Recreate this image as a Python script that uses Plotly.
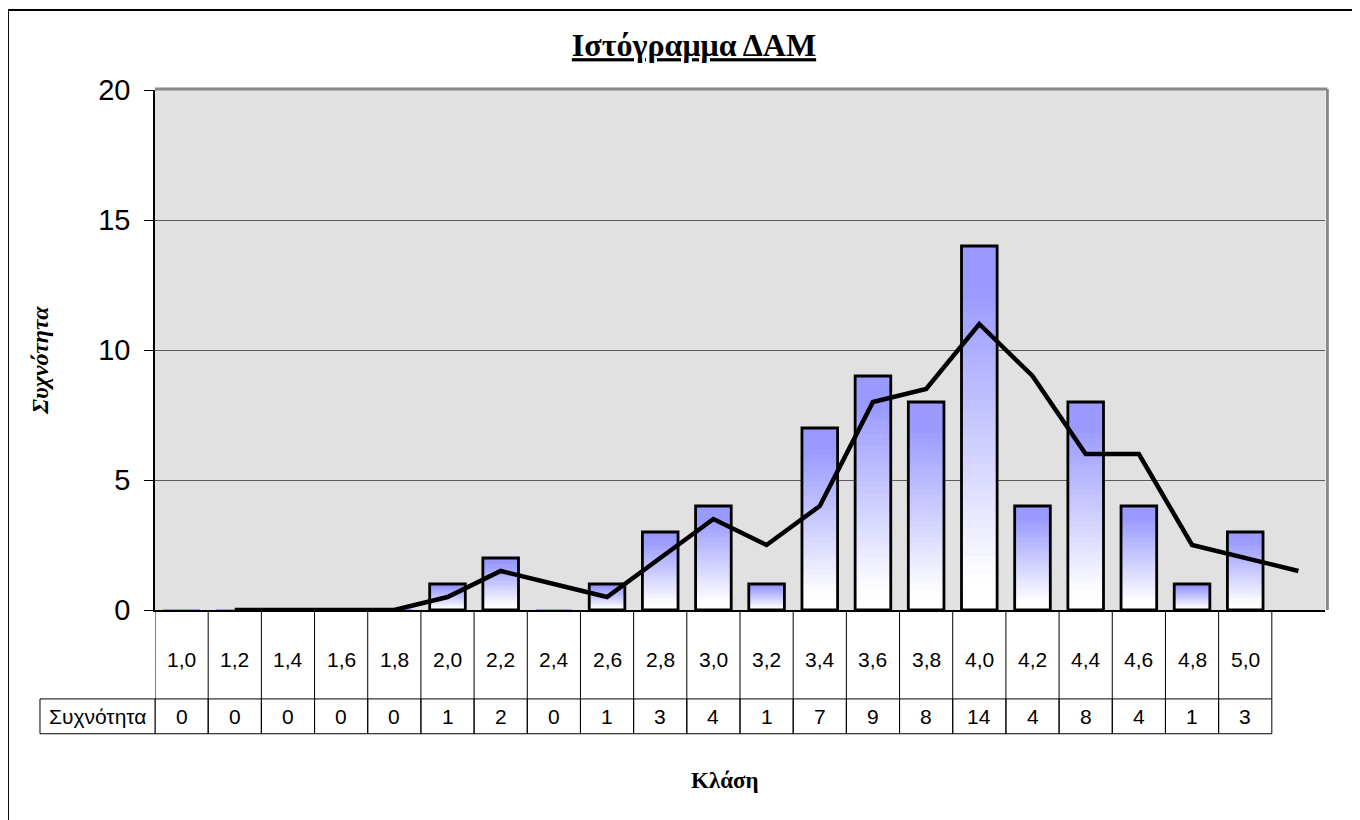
import plotly.graph_objects as go

# ---- data ----
classes = ["1,0", "1,2", "1,4", "1,6", "1,8", "2,0", "2,2", "2,4", "2,6", "2,8", "3,0",
           "3,2", "3,4", "3,6", "3,8", "4,0", "4,2", "4,4", "4,6", "4,8", "5,0"]
extra_class = " "
frequency = [0, 0, 0, 0, 0, 1, 2, 0, 1, 3, 4, 1, 7, 9, 8, 14, 4, 8, 4, 1, 3]
# 2-period moving average line (starts at 1,2; last point on the extra class)
trend_x = classes[1:] + [extra_class]
trend_y = [0, 0, 0, 0, 0.5, 1.5, 1, 0.5, 2, 3.5, 2.5, 4, 8, 8.5, 11, 9, 6, 6, 2.5, 2, 1.5]
y_ticks = [0, 5, 10, 15, 20]
row_label = "Συχνότητα"
title_text = "Ιστόγραμμα ΔΑΜ"
y_title = "Συχνότητα"
x_title = "Κλάση"

all_cats = classes + [extra_class]
SANS = "Liberation Sans, Arial, sans-serif"
SERIF = "Liberation Serif, Times New Roman, serif"

# the page has an 8px body margin; compensate so the plot lands where the reference has it
OFF = 8

fig = go.Figure()

# gradient bars: stacked slices, blue at top -> white at bottom
N = 40
top = (153, 153, 255)
def slice_color(t):  # t: 0 bottom .. 1 top
    s = min(max((t - 0.08) / 0.80, 0.0), 1.0)
    r = round(255 + (top[0] - 255) * s)
    g = round(255 + (top[1] - 255) * s)
    return f"rgb({r},{g},255)"

for k in range(N):
    col = slice_color((k + 0.5) / N)
    fig.add_trace(go.Bar(
        x=classes,
        y=[v / N for v in frequency],
        base=[v * k / N for v in frequency],
        width=0.67,
        marker=dict(color=col, line=dict(width=0.6, color=col)),
        hoverinfo="skip", showlegend=False,
    ))

# outlines
fig.add_trace(go.Bar(
    x=classes,
    y=[v if v else None for v in frequency],
    width=0.67,
    marker=dict(color="rgba(0,0,0,0)", line=dict(color="black", width=2.8)),
    hoverinfo="skip", showlegend=False,
))

# trend line
fig.add_trace(go.Scatter(
    x=trend_x, y=trend_y, mode="lines",
    line=dict(color="black", width=4.5),
    hoverinfo="skip", showlegend=False,
))

shapes = []
# outer frame
shapes.append(dict(type="rect", xref="paper", yref="paper", x0=-0.1256, x1=1.3, y0=-1.0, y1=1.1538,
                   line=dict(color="black", width=1.8), layer="below"))
# plot-area top/right gray border
shapes.append(dict(type="line", xref="paper", yref="paper", x0=0, x1=1.002, y0=1.002, y1=1.002,
                   line=dict(color="#888888", width=3)))
shapes.append(dict(type="line", xref="paper", yref="paper", x0=1.002, x1=1.002, y0=0, y1=1.002,
                   line=dict(color="#888888", width=3)))

# data table: row 1 vertical separators
r1_bot = -0.171
r2_bot = -0.238
for i in range(len(classes) + 1):
    shapes.append(dict(type="line", xref="x", yref="paper", x0=i - 0.5, x1=i - 0.5, y0=0, y1=r1_bot,
                       line=dict(color="black", width=1)))
# row 2 cells
for i in range(len(classes)):
    shapes.append(dict(type="rect", xref="x", yref="paper", x0=i - 0.5, x1=i + 0.5, y0=r1_bot, y1=r2_bot,
                       line=dict(color="black", width=1)))
# header cell
shapes.append(dict(type="rect", xref="paper", yref="paper", x0=-0.0983, x1=0, y0=r1_bot, y1=r2_bot,
                   line=dict(color="black", width=1)))

def ann(**kw):
    base = dict(showarrow=False, xanchor="center", yanchor="middle")
    base.update(kw)
    return base

annotations = []
for c, v in zip(classes, frequency):
    annotations.append(ann(x=c, xref="x", y=-0.096, yref="paper", text=c,
                           font=dict(family=SANS, size=21, color="black")))
    annotations.append(ann(x=c, xref="x", y=(r1_bot + r2_bot) / 2, yref="paper", text=str(v),
                           font=dict(family=SANS, size=21, color="black")))
annotations.append(ann(x=-0.0492, xref="paper", y=(r1_bot + r2_bot) / 2, yref="paper", text=row_label,
                       font=dict(family=SANS, size=21, color="black")))
annotations.append(ann(x=-0.0983, xref="paper", y=0.481, yref="paper", text=f"<b><i>{y_title}</i></b>",
                       textangle=-90, font=dict(family=SERIF, size=24, color="black")))
annotations.append(ann(x=0.487, xref="paper", y=-0.327, yref="paper", text=f"<b>{x_title}</b>",
                       font=dict(family=SERIF, size=23, color="black")))

fig.update_layout(
    width=1360, height=820,
    margin=dict(l=155 - OFF, r=35 + OFF, t=90 - OFF, b=210 + OFF),
    paper_bgcolor="white", plot_bgcolor="#e1e1e1",
    barmode="overlay",
    title=dict(text=f"<b><u>{title_text}</u></b>", x=(694 - OFF) / 1360, xref="container",
               xanchor="center", y=1 - (45 - OFF) / 820, yref="container", yanchor="middle",
               font=dict(family=SERIF, size=32, color="black")),
    xaxis=dict(type="category", categoryorder="array", categoryarray=all_cats,
               range=[-0.5, len(all_cats) - 0.5], showticklabels=False, ticks="",
               showgrid=False, showline=True, linecolor="black", linewidth=1.5, zeroline=False),
    yaxis=dict(range=[0, 20], tickvals=y_ticks, ticks="outside", ticklen=9, tickcolor="black",
               tickwidth=1, showline=True, linecolor="black", linewidth=1.5,
               gridcolor="#5a5a5a", gridwidth=1, zeroline=False, ticklabelstandoff=8,
               tickfont=dict(family=SANS, size=29, color="black")),
    shapes=shapes, annotations=annotations,
)

fig.write_html("out.html")
